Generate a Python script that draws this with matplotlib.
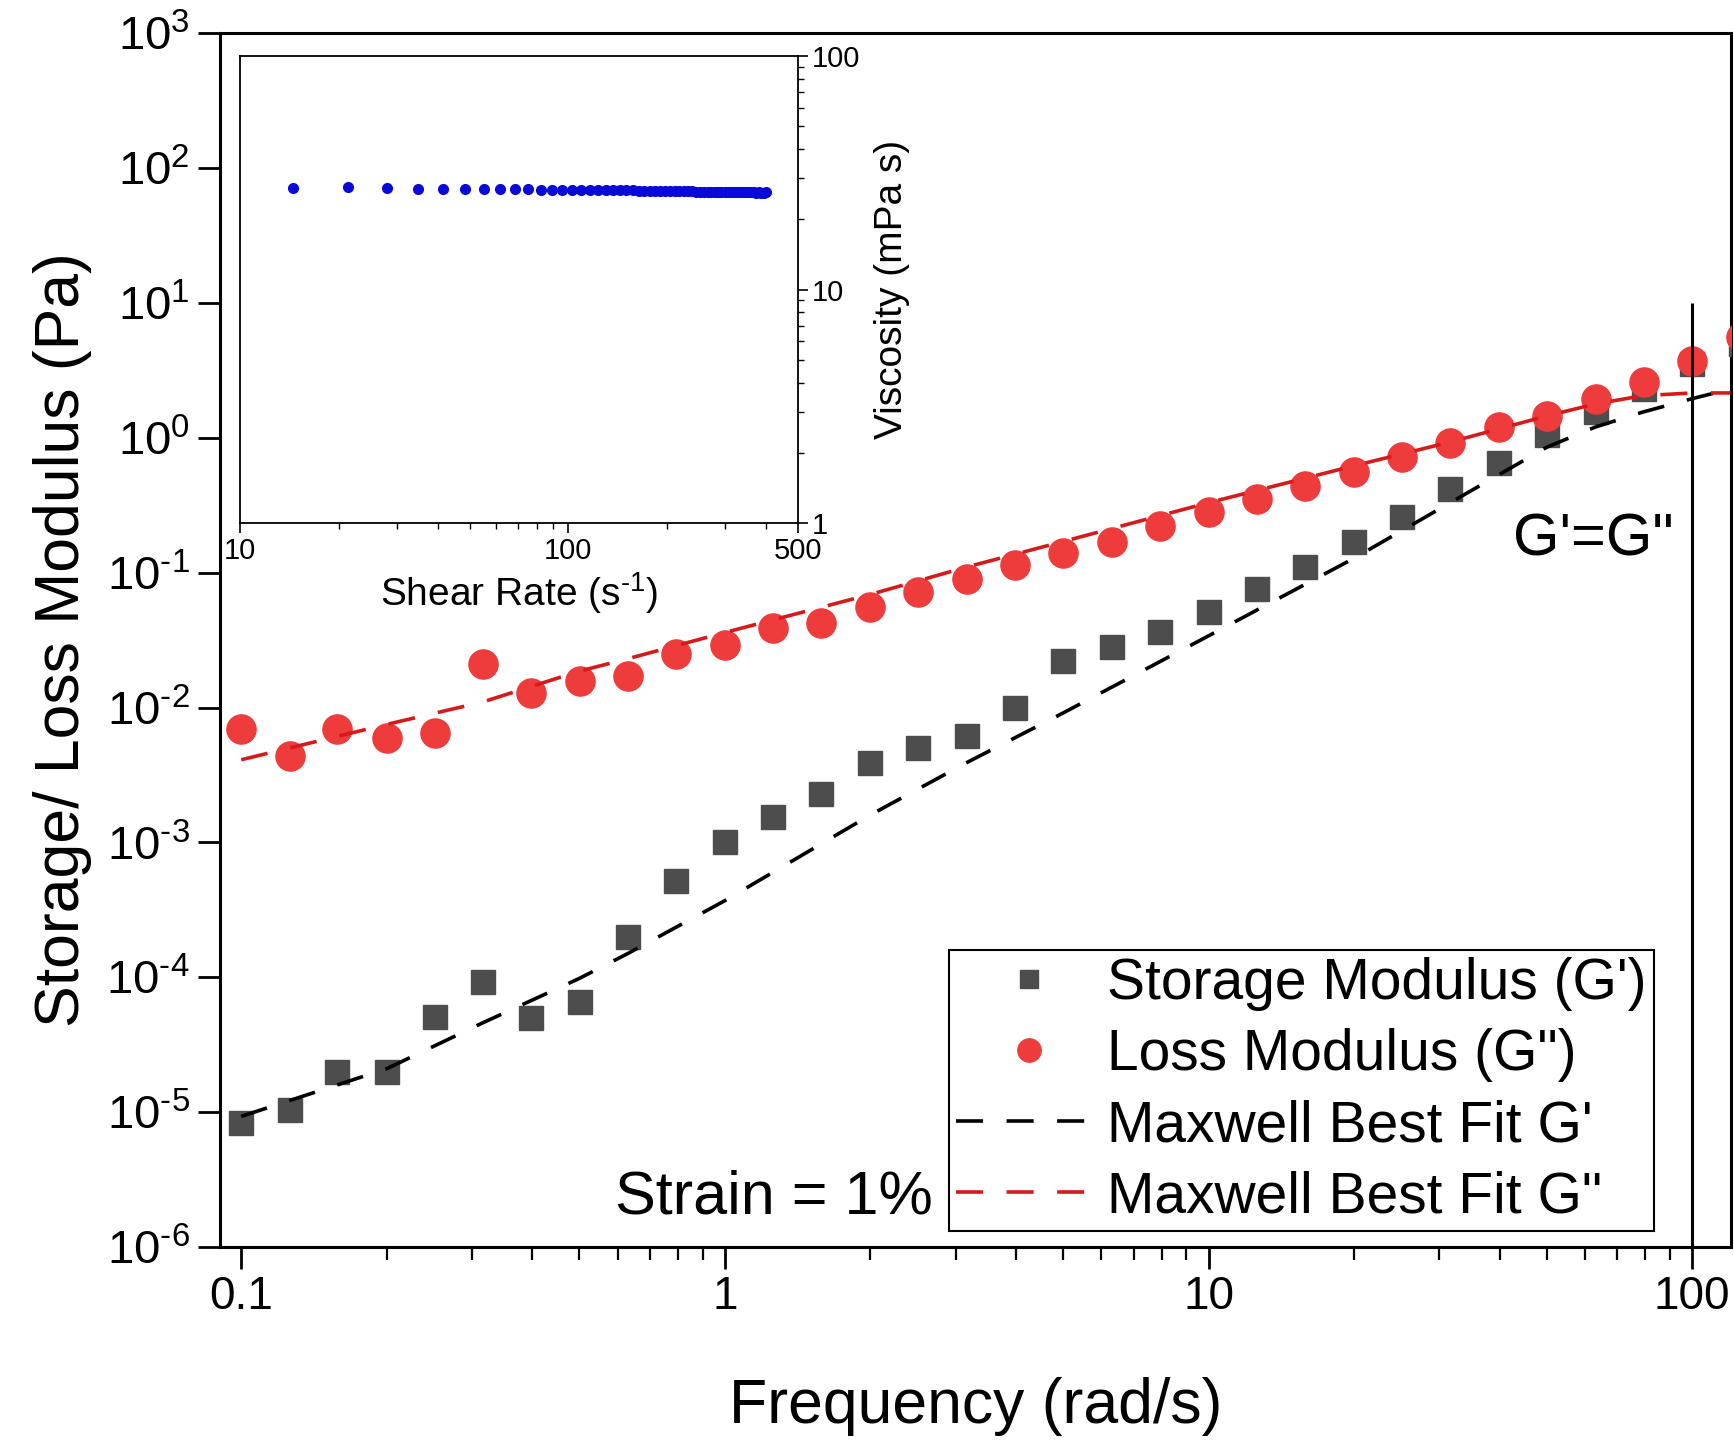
import matplotlib
matplotlib.use("Agg")
import matplotlib.pyplot as plt
from matplotlib.ticker import LogLocator, NullLocator, NullFormatter, FuncFormatter
import numpy as np

plt.rcParams["font.family"] = ["Liberation Sans", "DejaVu Sans"]
plt.rcParams["mathtext.fontset"] = "custom"
plt.rcParams["mathtext.rm"] = "Liberation Sans"
plt.rcParams["mathtext.it"] = "Liberation Sans:italic"
plt.rcParams["mathtext.bf"] = "Liberation Sans:bold"

# frequency sweep (rad/s)
freq = [0.1, 0.126, 0.158, 0.2, 0.251, 0.316, 0.398, 0.501, 0.631, 0.794,
        1.0, 1.26, 1.58, 2.0, 2.51, 3.16, 3.98, 5.01, 6.31, 7.94,
        10.0, 12.6, 15.8, 20.0, 25.1, 31.6, 39.8, 50.1, 63.1, 79.4,
        100.0, 126.0]
storage = [8.3e-6, 1.04e-5, 2.0e-5, 2.0e-5, 5.1e-5, 9.3e-5, 5.0e-5, 6.6e-5, 2.0e-4, 5.2e-4,
           1.0e-3, 1.55e-3, 2.3e-3, 3.9e-3, 5.0e-3, 6.2e-3, 1.0e-2, 2.2e-2, 2.8e-2, 3.6e-2,
           5.1e-2, 7.6e-2, 0.11, 0.17, 0.26, 0.42, 0.65, 1.04, 1.55, 2.3,
           3.5, 5.0]
loss = [6.9e-3, 4.4e-3, 6.9e-3, 5.9e-3, 6.5e-3, 2.1e-2, 1.28e-2, 1.58e-2, 1.7e-2, 2.5e-2,
        2.9e-2, 3.9e-2, 4.2e-2, 5.6e-2, 7.2e-2, 8.9e-2, 0.114, 0.14, 0.17, 0.22,
        0.28, 0.35, 0.44, 0.56, 0.72, 0.91, 1.2, 1.45, 1.94, 2.6,
        3.7, 5.6]

# Maxwell fit curves
fit_freq = [0.1, 0.2, 0.316, 0.5, 0.63, 1.0, 2.0, 3.16, 5.0, 10.0,
            20.0, 31.6, 50.0, 63.0, 79.0, 100.0, 120.0]
fit_storage = [9.3e-6, 2.1e-5, 4.6e-5, 9.8e-5, 1.5e-4, 3.7e-4, 1.6e-3, 3.9e-3, 9.1e-3, 3.4e-2,
               0.128, 0.33, 0.85, 1.2, 1.55, 1.95, 2.3]
fit_loss = [4.1e-3, 7.5e-3, 1.1e-2, 1.86e-2, 2.3e-2, 3.6e-2, 6.9e-2, 0.11, 0.17, 0.33,
            0.62, 0.93, 1.45, 1.78, 2.05, 2.15, 2.15]

# inset: steady shear viscosity
shear_rate = [14.5, 21.3, 28.1, 34.8, 41.6, 48.4, 55.2, 61.9, 68.7, 75.5,
              82.3, 89.0, 95.8, 102.6, 109.4, 116.1, 122.9, 129.7, 136.5, 143.2,
              150.0, 156.8, 163.6, 170.3, 177.1, 183.9, 190.7, 197.4, 204.2, 211.0,
              217.8, 224.5, 231.3, 238.1, 244.9, 251.6, 258.4, 265.2, 272.0, 278.7,
              285.5, 292.3, 299.1, 305.8, 312.6, 319.4, 326.2, 332.9, 339.7, 346.5,
              353.3, 360.0, 366.8, 373.6, 380.4, 387.1, 393.9, 400.7]
viscosity = [27.3, 27.5, 27.3, 27.1, 27.0, 27.1, 27.0, 26.9, 26.9, 26.9,
             26.8, 26.8, 26.8, 26.7, 26.7, 26.7, 26.7, 26.6, 26.6, 26.6,
             26.6, 26.6, 26.5, 26.5, 26.5, 26.5, 26.5, 26.5, 26.4, 26.4,
             26.4, 26.4, 26.4, 26.4, 26.3, 26.3, 26.3, 26.3, 26.3, 26.3,
             26.3, 26.2, 26.2, 26.2, 26.2, 26.2, 26.2, 26.2, 26.1, 26.1,
             26.1, 26.1, 26.1, 26.0, 26.1, 26.0, 26.0, 26.1]

HYPHEN = "\u2010"


def pow10_label(v, pos):
    e = int(round(np.log10(v)))
    return "$10^{%s}$" % str(e).replace("-", HYPHEN)


fig = plt.figure(figsize=(17.34, 14.41), dpi=100)
ax = fig.add_axes([0.127, 0.1346, 0.871, 0.8424])

ax.plot(freq, storage, "s", color="#4d4d4d", ms=17, mec="#4d4d4d",
        label="Storage Modulus (G')", zorder=3)
ax.plot(freq, loss, "o", color="#ee3b3b", ms=21, mec="#ee3b3b",
        label='Loss Modulus (G")', zorder=3)
ax.plot(fit_freq, fit_storage, color="black", lw=2.6, dashes=(7.5, 6.5),
        label="Maxwell Best Fit G'", zorder=4)
ax.plot(fit_freq, fit_loss, color="#d61a1a", lw=2.6, dashes=(7.5, 6.5),
        label='Maxwell Best Fit G"', zorder=4)
ax.vlines(100, 1e-6, 10, color="black", lw=2.2, zorder=5)

ax.set_xscale("log")
ax.set_yscale("log")
ax.set_xlim(0.0905, 120)
ax.set_ylim(1e-6, 1e3)

ax.set_xticks([0.1, 1, 10, 100])
ax.set_xticklabels(["0.1", "1", "10", "100"])
ax.xaxis.set_minor_locator(LogLocator(base=10, subs=range(2, 10)))
ax.xaxis.set_minor_formatter(NullFormatter())
ax.yaxis.set_major_locator(LogLocator(base=10, numticks=20))
ax.yaxis.set_major_formatter(FuncFormatter(pow10_label))
ax.yaxis.set_minor_locator(NullLocator())
ax.tick_params(which="major", direction="out", length=16, width=2, labelsize=34, pad=6)
ax.tick_params(axis="x", which="major", labelsize=33, pad=4)
ax.tick_params(which="minor", direction="out", length=9, width=1.6)
for s in ax.spines.values():
    s.set_linewidth(2.2)

ax.set_xlabel("Frequency (rad/s)", fontsize=45, labelpad=42)
ax.set_ylabel("Storage/ Loss Modulus (Pa)", fontsize=45, labelpad=10)

ax.text(62.5, 0.175, "G'=G\"", fontsize=43, ha="center", va="center")
ax.text(1.26, 2.3e-6, "Strain = 1%", fontsize=44, ha="center", va="center")

leg = ax.legend(loc="lower right", bbox_to_anchor=(0.949, 0.013), borderaxespad=0,
                fontsize=41, handlelength=2.55, handletextpad=0.1, labelspacing=0.3,
                borderpad=0.12, fancybox=False, framealpha=1, markerscale=0.8)
leg.get_frame().set_edgecolor("black")
leg.get_frame().set_linewidth(1.5)

# inset
axi = fig.add_axes([0.1384, 0.637, 0.3218, 0.324])
axi.plot(shear_rate, viscosity, "o", color="#0a0ad6", ms=7, mec="#0a0ad6")
axi.set_xscale("log")
axi.set_yscale("log")
axi.set_xlim(10, 500)
axi.set_ylim(1, 100)
axi.set_xticks([10, 100, 500])
axi.set_xticklabels(["10", "100", "500"])
axi.xaxis.set_minor_locator(LogLocator(base=10, subs=range(2, 10)))
axi.xaxis.set_minor_formatter(NullFormatter())
axi.yaxis.tick_right()
axi.yaxis.set_label_position("right")
axi.set_yticks([1, 10, 100])
axi.set_yticklabels(["1", "10", "100"])
axi.yaxis.set_minor_locator(LogLocator(base=10, subs=range(2, 10)))
axi.yaxis.set_minor_formatter(NullFormatter())
axi.tick_params(which="major", direction="out", length=7, width=1.2, labelsize=21, pad=3)
axi.tick_params(which="minor", direction="out", length=4, width=1.0)
for s in axi.spines.values():
    s.set_linewidth(1.3)
axi.set_xlabel("Shear Rate (s$^{" + HYPHEN + "1}$)", fontsize=28, labelpad=4)
axi.set_ylabel("Viscosity (mPa s)", fontsize=28, labelpad=10)

fig.savefig("out.png", dpi=100)
